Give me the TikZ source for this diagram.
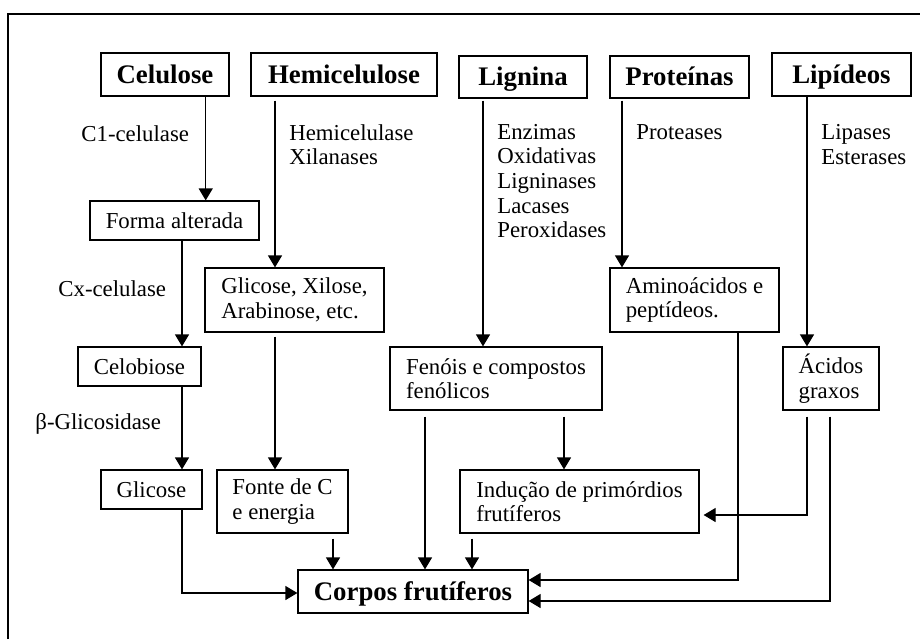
\documentclass[tikz,border=0pt]{standalone}
\usepackage{fontspec}
\setmainfont{Liberation Serif}
\usetikzlibrary{arrows.meta}

\tikzset{
  Base/.style={draw, line width=0.6pt, inner sep=0pt, font=\fontsize{11.4}{12.3}\selectfont},
  Box/.style={Base, text height=10pt, text depth=2.3pt},
  Two/.style={Base, align=left},
  Head/.style={Base, font=\fontsize{13.4}{16}\selectfont\bfseries, text height=11.5pt, text depth=2.6pt},
  Enz/.style={inner sep=0pt, anchor=west, align=left, font=\fontsize{11.4}{12.3}\selectfont},
  Arr/.style={line width=0.6pt, -{Triangle[width=7pt,length=6pt]}}
}

\begin{document}
\begin{tikzpicture}[x=0.5pt, y=-0.5pt]
\useasboundingbox (0,0) rectangle (920,639);
\draw[line width=0.6pt] (8,639) -- (8,14) -- (920,14);

% substratos
\node[Head, minimum width=64pt, minimum height=21.5pt] (celulose) at (165,74.5) {Celulose};
\node[Head, minimum width=93pt, minimum height=21.5pt] (hemicelulose) at (344,74.5) {Hemicelulose};
\node[Head, minimum width=64pt, minimum height=21pt] (lignina) at (523,77) {Lignina};
\node[Head, minimum width=69.5pt, minimum height=21pt] (proteinas) at (679.5,77) {Proteínas};
\node[Head, minimum width=69.5pt, minimum height=21.5pt] (lipideos) at (841.5,74.5) {Lipídeos};

% enzimas
\node[Enz] (c1) at (81,134) {C1-celulase};
\node[Enz] (hemi) at (289,144.5) {Hemicelulase\\Xilanases};
\node[Enz] (oxid) at (497,181) {Enzimas\\Oxidativas\\Ligninases\\Lacases\\Peroxidases};
\node[Enz] (prot) at (636,132) {Proteases};
\node[Enz] (lip) at (821,144.5) {Lipases\\Esterases};
\node[Enz] (cx) at (58,289) {Cx-celulase};
\node[Enz] (beta) at (35,424) {β-Glicosidase};

% produtos
\node[Box, minimum width=84.5pt, minimum height=19.5pt] (forma) at (174.5,220.5) {Forma alterada};
\node[Two, minimum width=89.5pt, minimum height=32pt] (glixil) at (294.5,300) {Glicose, Xilose,\\Arabinose, etc.};
\node[Two, minimum width=84.5pt, minimum height=32pt] (amino) at (694.5,300) {Aminoácidos e\\peptídeos.};
\node[Box, minimum width=61.5pt, minimum height=19.5pt] (celobiose) at (139.5,366.5) {Celobiose};
\node[Two, minimum width=106pt, minimum height=31.5pt] (fenois) at (496,378.5) {Fenóis e compostos\\fenólicos};
\node[Two, minimum width=48pt, minimum height=31.5pt] (acidos) at (831,378.5) {Ácidos\\graxos};
\node[Box, minimum width=50.5pt, minimum height=19.5pt] (glicose) at (151.5,489.5) {Glicose};
\node[Two, minimum width=65.5pt, minimum height=31.5pt] (fonte) at (282.5,501.5) {Fonte de C\\e energia};
\node[Two, minimum width=119.5pt, minimum height=31.5pt] (inducao) at (579.5,501.5) {Indução de primórdios\\frutíferos};
\node[Head, minimum width=115pt, minimum height=21.5pt] (corpos) at (413,591.5) {Corpos frutíferos};

% setas
\draw[Arr] ([xshift=20.35pt]celulose.south) -- ([xshift=20.35pt]celulose.south |- forma.north);
\draw[Arr, shorten <=2pt] ([xshift=-34.5pt]hemicelulose.south) -- ([xshift=-34.5pt]hemicelulose.south |- glixil.north);
\draw[Arr, shorten <=1pt] ([xshift=-20pt]lignina.south) -- ([xshift=-20pt]lignina.south |- fenois.north);
\draw[Arr, shorten <=1pt] ([xshift=-28.75pt]proteinas.south) -- ([xshift=-28.75pt]proteinas.south |- amino.north);
\draw[Arr] ([xshift=-17.25pt]lipideos.south) -- ([xshift=-17.25pt]lipideos.south |- acidos.north);
\draw[Arr] ([xshift=3.75pt]forma.south) -- ([xshift=3.75pt]forma.south |- celobiose.north);
\draw[Arr, shorten <=2pt] ([xshift=-9.75pt]glixil.south) -- ([xshift=-9.75pt]glixil.south |- fonte.north);
\draw[Arr] ([xshift=21.25pt]celobiose.south) -- ([xshift=21.25pt]celobiose.south |- glicose.north);
\draw[Arr] ([xshift=15.25pt]glicose.south) |- ([yshift=-0.75pt]corpos.west);
\draw[Arr, shorten <=2.5pt] ([xshift=25.25pt]fonte.south) -- ([xshift=25.25pt]fonte.south |- corpos.north);
\draw[Arr, shorten <=3pt] ([xshift=-35.5pt]fenois.south) -- ([xshift=-35.5pt]fenois.south |- corpos.north);
\draw[Arr, shorten <=3pt] ([xshift=34pt]fenois.south) -- ([xshift=34pt]fenois.south |- inducao.north);
\draw[Arr, shorten <=2.5pt] ([xshift=-53.75pt]inducao.south) -- ([xshift=-53.75pt]inducao.south |- corpos.north);
\draw[Arr] ([xshift=21.75pt]amino.south) |- ([yshift=5.75pt]corpos.east);
\draw[Arr, shorten <=3pt, shorten >=2pt] ([xshift=-12pt]acidos.south) |- ([yshift=-6.75pt]inducao.east);
\draw[Arr, shorten <=3pt] ([xshift=-0.5pt]acidos.south) |- ([yshift=-4.75pt]corpos.east);
\end{tikzpicture}
\end{document}
